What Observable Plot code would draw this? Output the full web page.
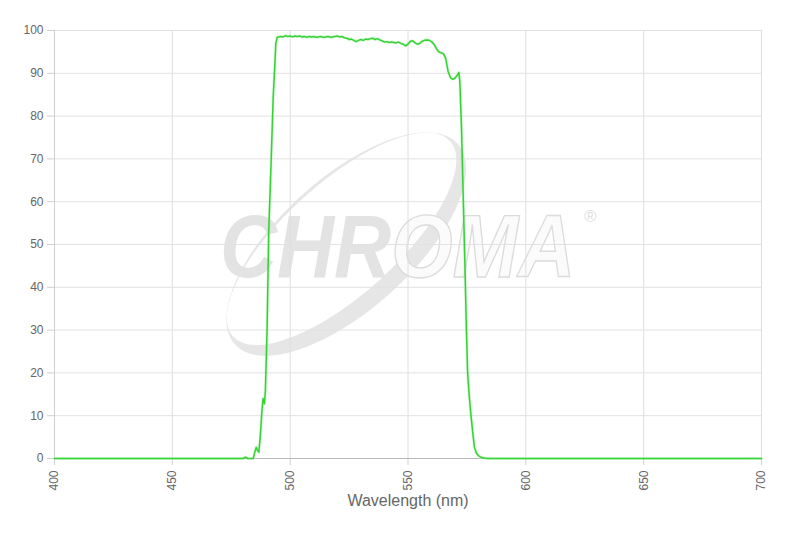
<!DOCTYPE html>
<html>
<head>
<meta charset="utf-8">
<script src="https://cdn.jsdelivr.net/npm/d3@7"></script>
<script src="https://cdn.jsdelivr.net/npm/@observablehq/plot@0.6"></script>
<style>
  html, body { margin: 0; padding: 0; background: #fff; }
  #chart { width: 793px; height: 537px; }
</style>
</head>
<body>
<div id="chart"></div>
<script>
// Wavelength (nm) and transmission (%)
const wavelength = [
  400, 480, 481, 482, 484.3, 485.0, 485.6, 486.2, 486.7, 487.3, 488.0, 488.5, 489.1, 489.5,
  490.2, 490.9, 491.9, 492.8, 493.5, 493.9, 494.5, 496, 497, 498, 499, 500, 501, 502, 503,
  504, 505, 506, 507, 508, 509, 510, 511, 512, 513, 514, 515, 516, 517, 518, 519, 520, 521,
  522, 523, 524, 525, 526, 527, 528, 529, 530, 531, 532, 533, 534, 535, 536, 537, 538, 539,
  540, 541, 542, 543, 544, 545, 546, 547, 548, 549, 550, 551, 552, 553, 554, 555, 556, 557,
  558, 559, 560, 561, 562, 563, 564, 565, 566, 567, 568, 569, 570, 571, 571.6, 572.0, 572.7,
  573.3, 574.1, 574.8, 575.3, 576.0, 576.8, 577.5, 578.2, 579, 580, 581, 582, 584, 700
];
const transmission = [
  0, 0, 0.3, 0, 0, 1.5, 2.6, 1.8, 1.5, 5, 11, 14, 12.8, 16,
  30, 53, 69, 84.4, 92, 96.9, 98.4, 98.6, 98.5, 98.8, 98.6, 98.7, 98.5, 98.7, 98.6,
  98.7, 98.5, 98.6, 98.4, 98.6, 98.5, 98.6, 98.4, 98.5, 98.6, 98.4, 98.5, 98.6, 98.4, 98.5, 98.6, 98.7, 98.5,
  98.6, 98.3, 98.2, 97.9, 98.0, 97.7, 97.4, 97.7, 97.9, 97.7, 98.0, 97.9, 98.1, 98.2, 97.9, 98.1, 97.8, 97.6,
  97.3, 97.4, 97.2, 97.3, 97.2, 97.1, 97.3, 97.0, 96.8, 96.4, 96.8, 97.5, 97.6, 97.1, 96.8, 97.0, 97.5, 97.7,
  97.8, 97.7, 97.4, 96.8, 95.8, 95.0, 94.8, 94.6, 93.5, 90.5, 89.0, 88.6, 88.9, 89.6, 90.2, 88, 77.4,
  64, 46.3, 30, 20, 14.5, 9.6, 6, 2.6, 1.3, 0.6, 0.3, 0.1, 0, 0
];
const xTicks = [400, 450, 500, 550, 600, 650, 700];
const yTicks = [0, 10, 20, 30, 40, 50, 60, 70, 80, 90, 100];
const xLabel = "Wavelength (nm)";
const logoText = ["CHR", "OMA"];

const data = wavelength.map((w, i) => ({w, t: transmission[i]}));

const font = "'Liberation Sans', Arial, Helvetica, sans-serif";

// Watermark logo, positioned through the chart scales
function watermark(index, scales) {
  const x = scales.x, y = scales.y;
  const g = d3.create("svg:g").attr("pointer-events", "none").attr("text-anchor", "start");
  const cx = x(524), cy = y(50);
  const ring = g.append("g").attr("transform", `translate(${cx},${cy}) rotate(-42)`);
  const ell = (ox, oy, rx, ry) =>
    `M${ox - rx},${oy}A${rx},${ry} 0 1 0 ${ox + rx},${oy}A${rx},${ry} 0 1 0 ${ox - rx},${oy}Z`;
  ring.append("path")
    .attr("d", ell(0, 0, 150, 66) + ell(0, -7, 146, 56))
    .attr("fill", "#e6e6e6")
    .attr("fill-rule", "evenodd");
  const tx = x(400) + 166, ty = y(42.3);
  const t = g.append("text")
    .attr("transform", `translate(${tx},${ty}) scale(1,1.12)`)
    .attr("text-anchor", "start")
    .attr("font-family", font)
    .attr("font-style", "italic")
    .attr("font-weight", "bold")
    .attr("font-size", 79);
  t.append("tspan").attr("fill", "#e3e3e3").text(logoText[0]);
  t.append("tspan").attr("fill", "#fbfbfb").attr("stroke", "#dcdcdc").attr("stroke-width", 1.3).text(logoText[1]);
  g.append("text")
    .attr("x", tx + 364).attr("y", y(55.2))
    .attr("text-anchor", "start")
    .attr("font-family", font)
    .attr("font-size", 17)
    .attr("fill", "#e0e0e0")
    .text("®");
  return g.node();
}

const plot = Plot.plot({
  width: 793,
  height: 537,
  marginLeft: 54,
  marginRight: 32,
  marginTop: 30,
  marginBottom: 79,
  style: {background: "transparent", fontFamily: font},
  x: {domain: [400, 700], ticks: xTicks},
  y: {domain: [0, 100], ticks: yTicks},
  marks: [
    watermark,
    Plot.gridX(xTicks, {stroke: "#dedede", strokeOpacity: 1, y1: 0, y2: 100}),
    Plot.gridY(yTicks, {stroke: "#e2e2e2", strokeOpacity: 1, x1: 400, x2: 700}),
    Plot.axisY(yTicks, {tickSize: 7, tickPadding: 4, stroke: "#cfcfcf", fill: "#666", fontSize: 12, label: null}),
    Plot.axisX(xTicks, {tickSize: 7, tickPadding: 5, tickRotate: -90, stroke: "#cfcfcf", fill: "#666", fontSize: 12, label: null}),
    Plot.ruleY([0], {stroke: "#b8b8b8"}),
    Plot.ruleX([400], {stroke: "#cfcfcf"}),
    Plot.line(data, {x: "w", y: "t", stroke: "#8ff08f", strokeWidth: 3, strokeOpacity: 0.35}),
    Plot.line(data, {x: "w", y: "t", stroke: "#35d135", strokeWidth: 1.5}),
    Plot.text([xLabel], {frameAnchor: "bottom", dy: 47, fontSize: 16, fill: "#666", text: d => d})
  ]
});
document.getElementById("chart").appendChild(plot);
</script>
</body>
</html>
